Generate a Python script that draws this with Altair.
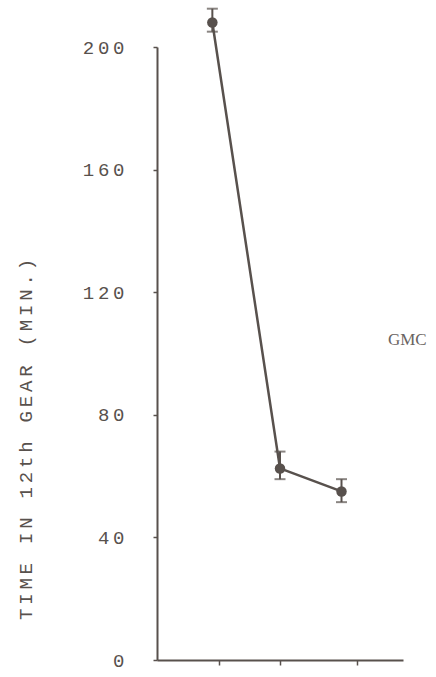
import altair as alt
import pandas as pd

# Mean time spent in 12th gear for three conditions, with error bars
cond_x = [0.9, 2.0, 3.0]
time_mean = [208, 62.5, 55]
time_hi = [212.5, 68, 59]
time_lo = [205, 59, 51.5]

y_ticks = [0, 40, 80, 120, 160, 200]
x_ticks = [1, 2, 3.25]

label_text = ["GMC"]
label_x = [4.07]
label_y = [104.5]

ink = "#58514d"
mono = "Liberation Mono"
thin = "\u2009"

df = pd.DataFrame({"x": cond_x, "m": time_mean, "hi": time_hi, "lo": time_lo})
lab = pd.DataFrame({"t": label_text, "x": label_x, "y": label_y})

title = thin.join(list("TIME IN 12th GEAR (MIN.)"))

xs = alt.Scale(domain=[0, 4])
ys = alt.Scale(domain=[0, 200])

x_enc = alt.X(
    "x:Q", scale=xs,
    axis=alt.Axis(values=x_ticks, labels=False, title=None, grid=False,
                  domainColor=ink, domainWidth=2, tickColor=ink,
                  tickWidth=1.5, tickSize=5),
)
y_axis = alt.Axis(
    values=y_ticks, grid=False, title=title,
    labelExpr=f"join(split(datum.label, ''), '{thin}')",
    labelFont=mono, labelFontSize=19, labelColor=ink, labelPadding=29,
    domainColor=ink, domainWidth=2, tickColor=ink, tickWidth=1.5, tickSize=4,
    titleFont=mono, titleFontSize=19, titleFontWeight="normal", titleColor=ink,
    titleAngle=-90, titleX=-132, titleY=392, titleAlign="center",
    titleBaseline="middle",
)

base = alt.Chart(df)

line = base.mark_line(color=ink, strokeWidth=2.5, clip=False).encode(
    x=x_enc, y=alt.Y("m:Q", scale=ys, axis=y_axis)
)
bars = base.mark_rule(color=ink, strokeWidth=2, clip=False).encode(
    x="x:Q", y="lo:Q", y2="hi:Q"
)
cap_hi = base.mark_tick(color=ink, thickness=2, size=11, orient="horizontal",
                        clip=False).encode(x="x:Q", y="hi:Q")
cap_lo = base.mark_tick(color=ink, thickness=2, size=11, orient="horizontal",
                        clip=False).encode(x="x:Q", y="lo:Q")
pts = base.mark_circle(color=ink, opacity=1, size=110, clip=False).encode(
    x="x:Q", y="m:Q"
)
gmc = alt.Chart(lab).mark_text(
    font="Liberation Serif", fontSize=17, color="#6a6462", clip=False
).encode(x="x:Q", y="y:Q", text="t:N")

chart = (
    alt.layer(line, bars, cap_hi, cap_lo, pts, gmc)
    .properties(
        width=246, height=613,
        padding={"left": 157, "top": 47, "right": 33, "bottom": 17},
        autosize=alt.AutoSizeParams(type="none"),
        background="white",
    )
    .configure_view(strokeWidth=0, stroke="transparent")
)

chart.save("out.html", embed_options={"renderer": "svg", "actions": False})
